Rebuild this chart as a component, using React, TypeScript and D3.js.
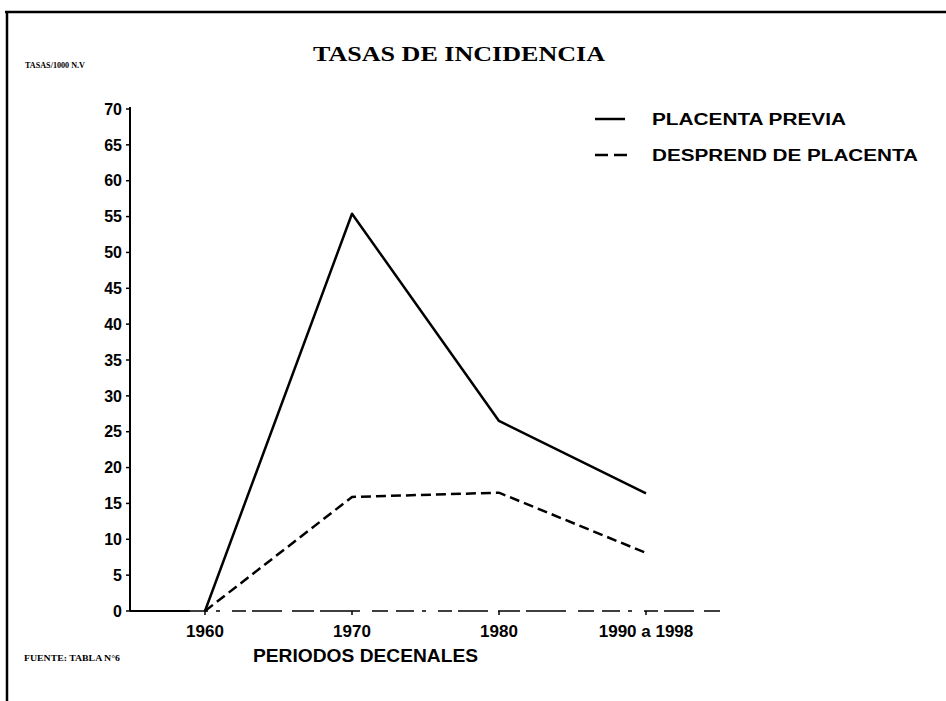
import React from "react";
import * as d3 from "d3";

const categories = ["1960", "1970", "1980", "1990 a 1998"];
const placentaPrevia = [0, 55.4, 26.5, 16.4];
const desprendPlacenta = [0, 15.9, 16.5, 8.1];
const yTicks = [0, 5, 10, 15, 20, 25, 30, 35, 40, 45, 50, 55, 60, 65, 70];
const seriesNames = ["PLACENTA PREVIA", "DESPREND DE PLACENTA"];
const titleText = "TASAS DE INCIDENCIA";
const yAxisTitle = "TASAS/1000 N.V";
const xAxisTitle = "PERIODOS DECENALES";
const sourceText = "FUENTE: TABLA N°6";

const W = 946;
const H = 701;
const SANS = "'Liberation Sans', Arial, sans-serif";
const SERIF = "'Liberation Serif', 'Times New Roman', serif";

export default function App() {
  const x = d3.scalePoint<string>().domain(categories).range([205, 646]);
  const y = d3.scaleLinear().domain([0, 70]).range([611, 109]);

  const line = d3
    .line<number>()
    .x((_, i) => x(categories[i]) as number)
    .y((d) => y(d));

  const axisX0 = 130;
  const axisXEnd = 720;

  return (
    <svg
      width={W}
      height={H}
      viewBox={`0 0 ${W} ${H}`}
      style={{ position: "absolute", left: 0, top: 0, background: "#fff" }}
    >
      <rect x={0} y={0} width={W} height={H} fill="#fff" />
      {/* frame */}
      <line x1={5} y1={12} x2={W} y2={12} stroke="#000" strokeWidth={2.5} />
      <line x1={7} y1={11} x2={7} y2={H} stroke="#000" strokeWidth={2.5} />

      {/* title */}
      <text
        x={459}
        y={61}
        textAnchor="middle"
        fontFamily={SERIF}
        fontWeight="bold"
        fontSize={21}
        textLength={292}
        lengthAdjust="spacingAndGlyphs"
      >
        {titleText}
      </text>

      {/* y axis title */}
      <text
        x={25}
        y={68}
        fontFamily={SERIF}
        fontWeight="bold"
        fontSize={9}
        textLength={60}
        lengthAdjust="spacingAndGlyphs"
      >
        {yAxisTitle}
      </text>

      {/* y axis */}
      <line x1={axisX0} y1={y(70) - 2} x2={axisX0} y2={y(0)} stroke="#000" strokeWidth={2} />
      {yTicks.map((t) => (
        <g key={t}>
          <line x1={axisX0 - 4} x2={axisX0} y1={y(t)} y2={y(t)} stroke="#000" strokeWidth={1.5} />
          <text
            x={122}
            y={y(t)}
            dy="0.36em"
            textAnchor="end"
            fontFamily={SANS}
            fontWeight="bold"
            fontSize={16}
          >
            {t}
          </text>
        </g>
      ))}

      {/* x axis */}
      <line x1={axisX0} y1={y(0)} x2={190} y2={y(0)} stroke="#000" strokeWidth={2} />
      <line
        x1={190}
        y1={y(0)}
        x2={axisXEnd}
        y2={y(0)}
        stroke="#000"
        strokeWidth={1.5}
        strokeDasharray="18,8,4,12,14,6,30,10,22,6,40,12,16,8"
      />
      {categories.map((c) => (
        <g key={c}>
          <line x1={x(c)} x2={x(c)} y1={y(0)} y2={y(0) + 4} stroke="#000" strokeWidth={1.5} />
          <text
            x={x(c)}
            y={637}
            textAnchor="middle"
            fontFamily={SANS}
            fontWeight="bold"
            fontSize={17}
          >
            {c}
          </text>
        </g>
      ))}

      {/* x axis title */}
      <text
        x={253}
        y={662}
        fontFamily={SANS}
        fontWeight="bold"
        fontSize={18}
        textLength={225}
        lengthAdjust="spacingAndGlyphs"
      >
        {xAxisTitle}
      </text>

      {/* source */}
      <text
        x={24}
        y={661}
        fontFamily={SERIF}
        fontWeight="bold"
        fontSize={9}
        textLength={96}
        lengthAdjust="spacingAndGlyphs"
      >
        {sourceText}
      </text>

      {/* series */}
      <path d={line(placentaPrevia) || ""} fill="none" stroke="#000" strokeWidth={2.5} strokeLinejoin="round" />
      <path
        d={line(desprendPlacenta) || ""}
        fill="none"
        stroke="#000"
        strokeWidth={2.5}
        strokeDasharray="10,5"
      />

      {/* legend */}
      <line x1={595} x2={625} y1={119} y2={119} stroke="#000" strokeWidth={2.5} />
      <text
        x={652}
        y={119}
        dy="0.36em"
        fontFamily={SANS}
        fontWeight="bold"
        fontSize={16}
        textLength={194}
        lengthAdjust="spacingAndGlyphs"
      >
        {seriesNames[0]}
      </text>
      <line
        x1={595}
        x2={627}
        y1={155}
        y2={155}
        stroke="#000"
        strokeWidth={2.5}
        strokeDasharray="13,6"
      />
      <text
        x={652}
        y={155}
        dy="0.36em"
        fontFamily={SANS}
        fontWeight="bold"
        fontSize={16}
        textLength={266}
        lengthAdjust="spacingAndGlyphs"
      >
        {seriesNames[1]}
      </text>
    </svg>
  );
}
